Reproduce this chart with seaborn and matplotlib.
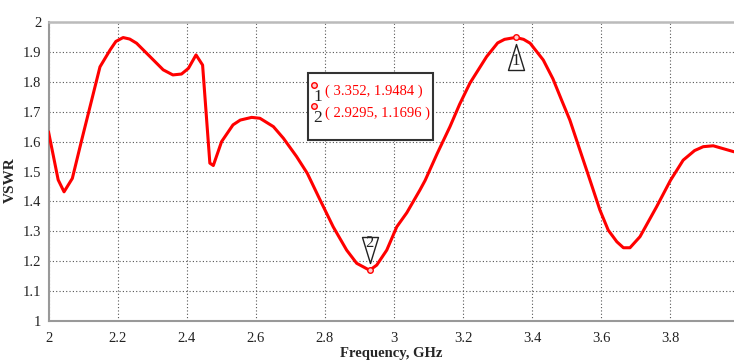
#!/usr/bin/env python3
"""VSWR vs frequency with two markers (recreated)."""

import matplotlib
matplotlib.use("Agg")
import matplotlib.pyplot as plt
import seaborn as sns
import pandas as pd
from matplotlib.path import Path
from matplotlib.patches import Rectangle

# curve
freq = [2.000, 2.028, 2.045, 2.069, 2.096, 2.125, 2.149, 2.178, 2.195, 2.216,
        2.235, 2.255, 2.294, 2.332, 2.360, 2.385, 2.405, 2.427, 2.446, 2.467,
        2.477, 2.501, 2.534, 2.555, 2.588, 2.612, 2.651, 2.680, 2.718, 2.749,
        2.786, 2.824, 2.863, 2.892, 2.9295, 2.950, 2.979, 3.008, 3.037, 3.075,
        3.090, 3.125, 3.162, 3.190, 3.220, 3.268, 3.300, 3.320, 3.352, 3.375,
        3.394, 3.432, 3.460, 3.485, 3.509, 3.538, 3.567, 3.596, 3.620, 3.645,
        3.664, 3.683, 3.712, 3.760, 3.800, 3.837, 3.870, 3.895, 3.924, 3.984]
vswr = [1.633, 1.472, 1.432, 1.477, 1.605, 1.739, 1.850, 1.906, 1.935, 1.948,
        1.943, 1.929, 1.884, 1.840, 1.823, 1.826, 1.845, 1.890, 1.856, 1.528,
        1.520, 1.600, 1.656, 1.672, 1.681, 1.678, 1.650, 1.611, 1.550, 1.494,
        1.405, 1.315, 1.237, 1.193, 1.1696, 1.187, 1.237, 1.315, 1.362, 1.438,
        1.470, 1.560, 1.650, 1.725, 1.796, 1.884, 1.930, 1.942, 1.9484, 1.942,
        1.929, 1.873, 1.810, 1.739, 1.672, 1.572, 1.472, 1.371, 1.304, 1.265,
        1.245, 1.245, 1.282, 1.382, 1.470, 1.538, 1.570, 1.583, 1.586, 1.566]

marker_ids = ["1", "2"]
marker_x = [3.352, 2.9295]
marker_y = [1.9484, 1.1696]
marker_up = [True, False]   # triangle below (pointing up) or above (pointing down)

x_ticks = [2, 2.2, 2.4, 2.6, 2.8, 3, 3.2, 3.4, 3.6, 3.8]
y_ticks = [1, 1.1, 1.2, 1.3, 1.4, 1.5, 1.6, 1.7, 1.8, 1.9, 2]

RED = "#ff0000"
DPI = 100


def fmt(v):
    return f"{v:g}"


def triangle_marker(up):
    # vertices in pixels relative to the marked point (apex near the point)
    if up:
        verts = [(0, -7), (-8, -33), (8, -33), (0, -7)]
    else:
        verts = [(0, 7), (-8, 33), (8, 33), (0, 7)]
    path = Path(verts, [Path.MOVETO, Path.LINETO, Path.LINETO, Path.CLOSEPOLY])
    ms = 2 * 33 * 72 / DPI  # keeps 1 path unit == 1 pixel
    return path, ms


def main():
    sns.set_style("white")
    plt.rcParams["font.family"] = ["Liberation Serif", "DejaVu Serif"]

    fig = plt.figure(figsize=(7.34, 3.61), dpi=DPI)
    ax = fig.add_axes([48.5 / 734, 40 / 361, 685.5 / 734, 299 / 361])

    df = pd.DataFrame({"freq": freq, "vswr": vswr})
    sns.lineplot(data=df, x="freq", y="vswr", ax=ax, color=RED, lw=2.2,
                 zorder=3)

    ax.set_xlim(2, 2 + 685.5 / 345.5)
    ax.set_ylim(1, 2)
    ax.set_xticks(x_ticks)
    ax.set_xticklabels([fmt(v) for v in x_ticks])
    ax.set_yticks(y_ticks)
    ax.set_yticklabels([fmt(v) for v in y_ticks])
    ax.tick_params(labelsize=10.5, colors="#222222", length=3, pad=2)
    ax.tick_params(axis="x", pad=5)
    ax.tick_params(axis="both", color="#888888")

    ax.grid(True, color="#555555", linestyle=(0, (1, 2)), lw=0.8)
    for side in ("left", "bottom"):
        ax.spines[side].set_color("#999999")
        ax.spines[side].set_linewidth(1.5)
    ax.spines["top"].set_color("#bbbbbb")
    ax.spines["top"].set_linewidth(1.8)
    ax.spines["right"].set_visible(False)

    ax.set_xlabel("Frequency, GHz", fontsize=10.5, fontweight="bold", labelpad=1)
    ax.set_ylabel("VSWR", fontsize=11, fontweight="bold")
    ax.yaxis.set_label_coords(-0.046, 0.47)

    # markers on the curve
    for mid, mx, my, up in zip(marker_ids, marker_x, marker_y, marker_up):
        path, ms = triangle_marker(up)
        ax.plot([mx], [my], marker=path, ms=ms, mfc="white", mec="#222222",
                mew=1.0, ls="none", zorder=4)
        ax.plot([mx], [my], marker="o", ms=4, mfc="#ffcccc", mec=RED,
                mew=1.0, ls="none", zorder=5)
        dy = -24 if up else 27
        ax.annotate(mid, xy=(mx, my), xytext=(0, dy), textcoords="offset pixels",
                    ha="center", va="center", fontsize=12, color="#222222",
                    zorder=6)

    # marker readout box
    tr = ax.transAxes
    ax.add_patch(Rectangle((0.3785, 0.6054), 0.1824, 0.224, transform=tr,
                           facecolor="white", edgecolor="#333333", lw=1.5,
                           zorder=7))
    rows_y = [0.7669, 0.6957]
    for mid, mx, my, ry in zip(marker_ids, marker_x, marker_y, rows_y):
        ax.plot([0.3873], [ry + 0.022], marker="o", ms=4, mfc="#ffcccc",
                mec=RED, mew=1.0, ls="none", transform=tr, zorder=8,
                clip_on=False)
        ax.text(0.3931, ry - 0.017, mid, transform=tr, ha="center",
                va="center", fontsize=12.5, color="#222222", zorder=8)
        ax.text(0.4034, ry, f"( {fmt(mx)}, {fmt(my)} )", transform=tr,
                ha="left", va="center", fontsize=10.5, color=RED, zorder=8)

    fig.savefig("out.png", dpi=DPI)
    plt.close(fig)


if __name__ == "__main__":
    main()
